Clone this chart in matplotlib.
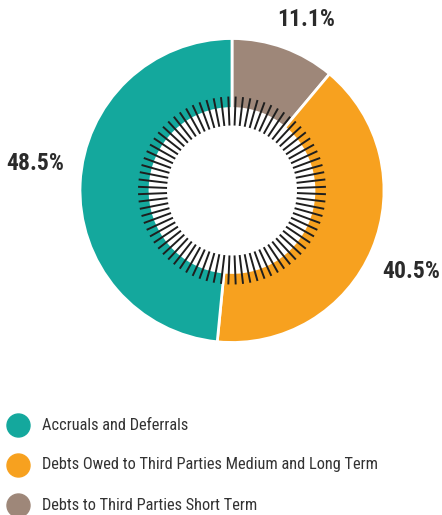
import numpy as np
import matplotlib
matplotlib.use("Agg")
import matplotlib.pyplot as plt

# ---- data ----
categories = ["Accruals and Deferrals",
              "Debts Owed to Third Parties Medium and Long Term",
              "Debts to Third Parties Short Term"]
values = [48.5, 40.5, 11.1]
labels = ["48.5%", "40.5%", "11.1%"]
colors = ["#14A89D", "#F7A11F", "#9E8779"]

W, H = 442, 515
fig = plt.figure(figsize=(W / 100, H / 100), dpi=100)
ax = fig.add_axes([0, 0, 1, 1])

def Y(ypx):
    return H - ypx

cx, cy = 232, Y(190.5)
R_out, R_in = 152, 82

# draw order clockwise from top: short term, medium/long, accruals
order = [2, 1, 0]
ax.pie([values[i] for i in order], colors=[colors[i] for i in order],
       startangle=90, counterclock=False, radius=R_out, center=(cx, cy),
       wedgeprops=dict(width=R_out - R_in, edgecolor="white", linewidth=2))

# decorative radial tick ring
n_ticks = 80
r0, r1 = 65, 94
ang = np.pi / 2 - (np.arange(n_ticks) + 0.5) * 2 * np.pi / n_ticks
for a in ang:
    ax.plot([cx + r0 * np.cos(a), cx + r1 * np.cos(a)],
            [cy + r0 * np.sin(a), cy + r1 * np.sin(a)],
            color="#1e1e1e", lw=1.4, solid_capstyle="butt", zorder=5)

fam = ["Roboto Condensed", "DejaVu Sans"]
label_pos = [(35, 163), (411, 272), (306, 20)]
for lab, (x, y) in zip(labels, label_pos):
    ax.text(x, Y(y), lab, ha="center", va="center", fontsize=17,
            fontweight="bold", color="#2b2b2b", family=fam)

# legend
leg_y = [425, 465, 505]
for cat, col, y in zip(categories, colors, leg_y):
    ax.scatter([18], [Y(y)], s=(23 * 0.72) ** 2, color=col, zorder=5, clip_on=False)
    ax.text(42, Y(y), cat, ha="left", va="center", fontsize=11.8,
            color="#333333", family=fam)

ax.set_xlim(0, W)
ax.set_ylim(0, H)
ax.set_aspect("equal")
ax.axis("off")
fig.savefig("out.png", dpi=100)
